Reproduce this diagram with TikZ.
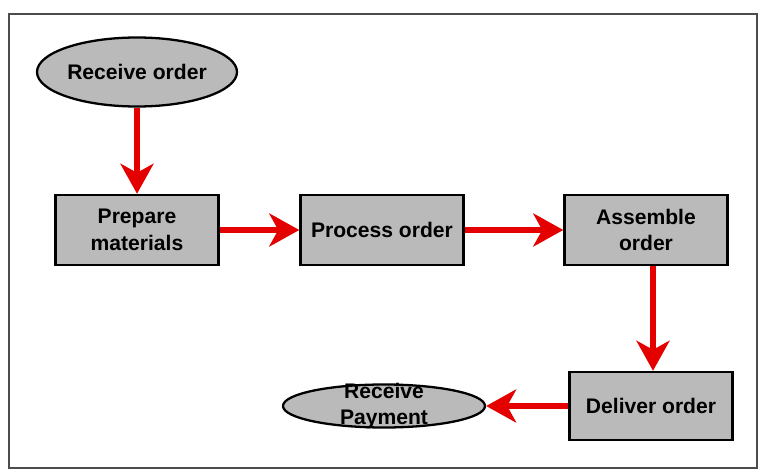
\documentclass[tikz,border=0pt]{standalone}
\usepackage{fontspec}
\setmainfont{Liberation Sans}
\usetikzlibrary{arrows.meta,shapes.geometric}

\begin{document}
\begin{tikzpicture}[font=\bfseries\fontsize{12}{15}\selectfont]
  % Colors
  \colorlet{boxgray}{black!27}
  \colorlet{flowred}{red!90!black}

  % Styles
  \tikzstyle{task}=[draw=black,line width=1.4pt,fill=boxgray,minimum width=3.26cm,
    minimum height=1.4cm,align=center,inner sep=2pt]
  \tikzstyle{terminal}=[ellipse,draw=black,line width=1.3pt,fill=boxgray,inner sep=0pt,align=center]
  \tikzstyle{flow}=[draw=flowred,line width=3.2pt,
    -{Stealth[length=0.6cm,width=0.66cm,inset=0.18cm,fill=flowred]}]

  % Frame
  \useasboundingbox (0,0) rectangle (15.26,-9.44);
  \draw[black!70,line width=1pt] (0.18,-0.28) rectangle (15.14,-9.36);

  % Nodes
  \node[terminal,minimum width=4cm,minimum height=1.38cm] (recv) at (2.74,-1.44) {Receive order};
  \node[task] (prep) at (2.74,-4.6) {Prepare\\materials};
  \node[task] (proc) at (7.64,-4.6) {Process order};
  \node[task] (asm) at (12.92,-4.6) {Assemble\\order};
  \node[task,minimum height=1.36cm] (deliv) at (13.02,-8.12) {Deliver order};
  \node[terminal,minimum width=4.04cm,minimum height=0.86cm] (pay) at (7.68,-8.12) {};
  \node[inner sep=0pt,align=center] (paytext) at (pay) {Receive\\Payment};

  % Arrows
  \draw[flow] (recv.south) -- (prep.north);
  \draw[flow] (prep.east) -- (proc.west);
  \draw[flow] (proc.east) -- (asm.west);
  \draw[flow] ([xshift=0.14cm]asm.south) -- ([xshift=0.04cm]deliv.north);
  \draw[flow] (deliv.west) -- (pay.east);

\end{tikzpicture}
\end{document}
